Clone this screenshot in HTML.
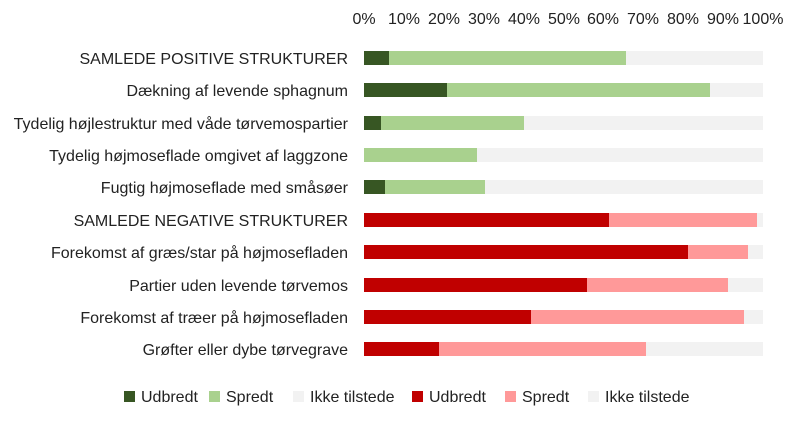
<!DOCTYPE html>
<html><head><meta charset="utf-8"><style>
body{margin:0;background:#fff;}
svg text{font-family:"Liberation Sans",sans-serif;font-size:16px;fill:#222;}
</style></head><body>
<svg width="800" height="423" xmlns="http://www.w3.org/2000/svg">
<g text-anchor="middle" style="font-size:15px">
<text x="364" y="24">0%</text><text x="404" y="24">10%</text><text x="444" y="24">20%</text><text x="484" y="24">30%</text><text x="524" y="24">40%</text><text x="564" y="24">50%</text><text x="603" y="24">60%</text><text x="643" y="24">70%</text><text x="683" y="24">80%</text><text x="723" y="24">90%</text><text x="763" y="24">100%</text>
</g>
<g text-anchor="end">
<text x="348" y="63" textLength="338" lengthAdjust="spacingAndGlyphs" style="display:none"></text>
<text x="348" y="64">SAMLEDE POSITIVE STRUKTURER</text>
<text x="348" y="96">Dækning af levende sphagnum</text>
<text x="348" y="129">Tydelig højlestruktur med våde tørvemospartier</text>
<text x="348" y="161">Tydelig højmoseflade omgivet af laggzone</text>
<text x="348" y="193">Fugtig højmoseflade med småsøer</text>
<text x="348" y="226">SAMLEDE NEGATIVE STRUKTURER</text>
<text x="348" y="258">Forekomst af græs/star på højmosefladen</text>
<text x="348" y="291">Partier uden levende tørvemos</text>
<text x="348" y="323">Forekomst af træer på højmosefladen</text>
<text x="348" y="355">Grøfter eller dybe tørvegrave</text>
</g>
<g>
<rect x="364" y="51" width="399" height="14" fill="#f2f2f2"/><rect x="364" y="51" width="262" height="14" fill="#a9d18e"/><rect x="364" y="51" width="25" height="14" fill="#375623"/>
<rect x="364" y="83" width="399" height="14" fill="#f2f2f2"/><rect x="364" y="83" width="346" height="14" fill="#a9d18e"/><rect x="364" y="83" width="83" height="14" fill="#375623"/>
<rect x="364" y="116" width="399" height="14" fill="#f2f2f2"/><rect x="364" y="116" width="160" height="14" fill="#a9d18e"/><rect x="364" y="116" width="17" height="14" fill="#375623"/>
<rect x="364" y="148" width="399" height="14" fill="#f2f2f2"/><rect x="364" y="148" width="113" height="14" fill="#a9d18e"/>
<rect x="364" y="180" width="399" height="14" fill="#f2f2f2"/><rect x="364" y="180" width="121" height="14" fill="#a9d18e"/><rect x="364" y="180" width="21" height="14" fill="#375623"/>
<rect x="364" y="213" width="399" height="14" fill="#f2f2f2"/><rect x="364" y="213" width="393" height="14" fill="#ff9999"/><rect x="364" y="213" width="245" height="14" fill="#c00000"/>
<rect x="364" y="245" width="399" height="14" fill="#f2f2f2"/><rect x="364" y="245" width="384" height="14" fill="#ff9999"/><rect x="364" y="245" width="324" height="14" fill="#c00000"/>
<rect x="364" y="278" width="399" height="14" fill="#f2f2f2"/><rect x="364" y="278" width="364" height="14" fill="#ff9999"/><rect x="364" y="278" width="223" height="14" fill="#c00000"/>
<rect x="364" y="310" width="399" height="14" fill="#f2f2f2"/><rect x="364" y="310" width="380" height="14" fill="#ff9999"/><rect x="364" y="310" width="167" height="14" fill="#c00000"/>
<rect x="364" y="342" width="399" height="14" fill="#f2f2f2"/><rect x="364" y="342" width="282" height="14" fill="#ff9999"/><rect x="364" y="342" width="75" height="14" fill="#c00000"/>
</g>
<g style="font-size:15.5px">
<rect x="124" y="391" width="11" height="11" fill="#375623"/><text x="141" y="402">Udbredt</text>
<rect x="209" y="391" width="11" height="11" fill="#a9d18e"/><text x="226" y="402">Spredt</text>
<rect x="293" y="391" width="11" height="11" fill="#f2f2f2"/><text x="310" y="402">Ikke tilstede</text>
<rect x="412" y="391" width="11" height="11" fill="#c00000"/><text x="429" y="402">Udbredt</text>
<rect x="505" y="391" width="11" height="11" fill="#ff9999"/><text x="522" y="402">Spredt</text>
<rect x="588" y="391" width="11" height="11" fill="#f2f2f2"/><text x="605" y="402">Ikke tilstede</text>
</g>
</svg>
</body></html>
